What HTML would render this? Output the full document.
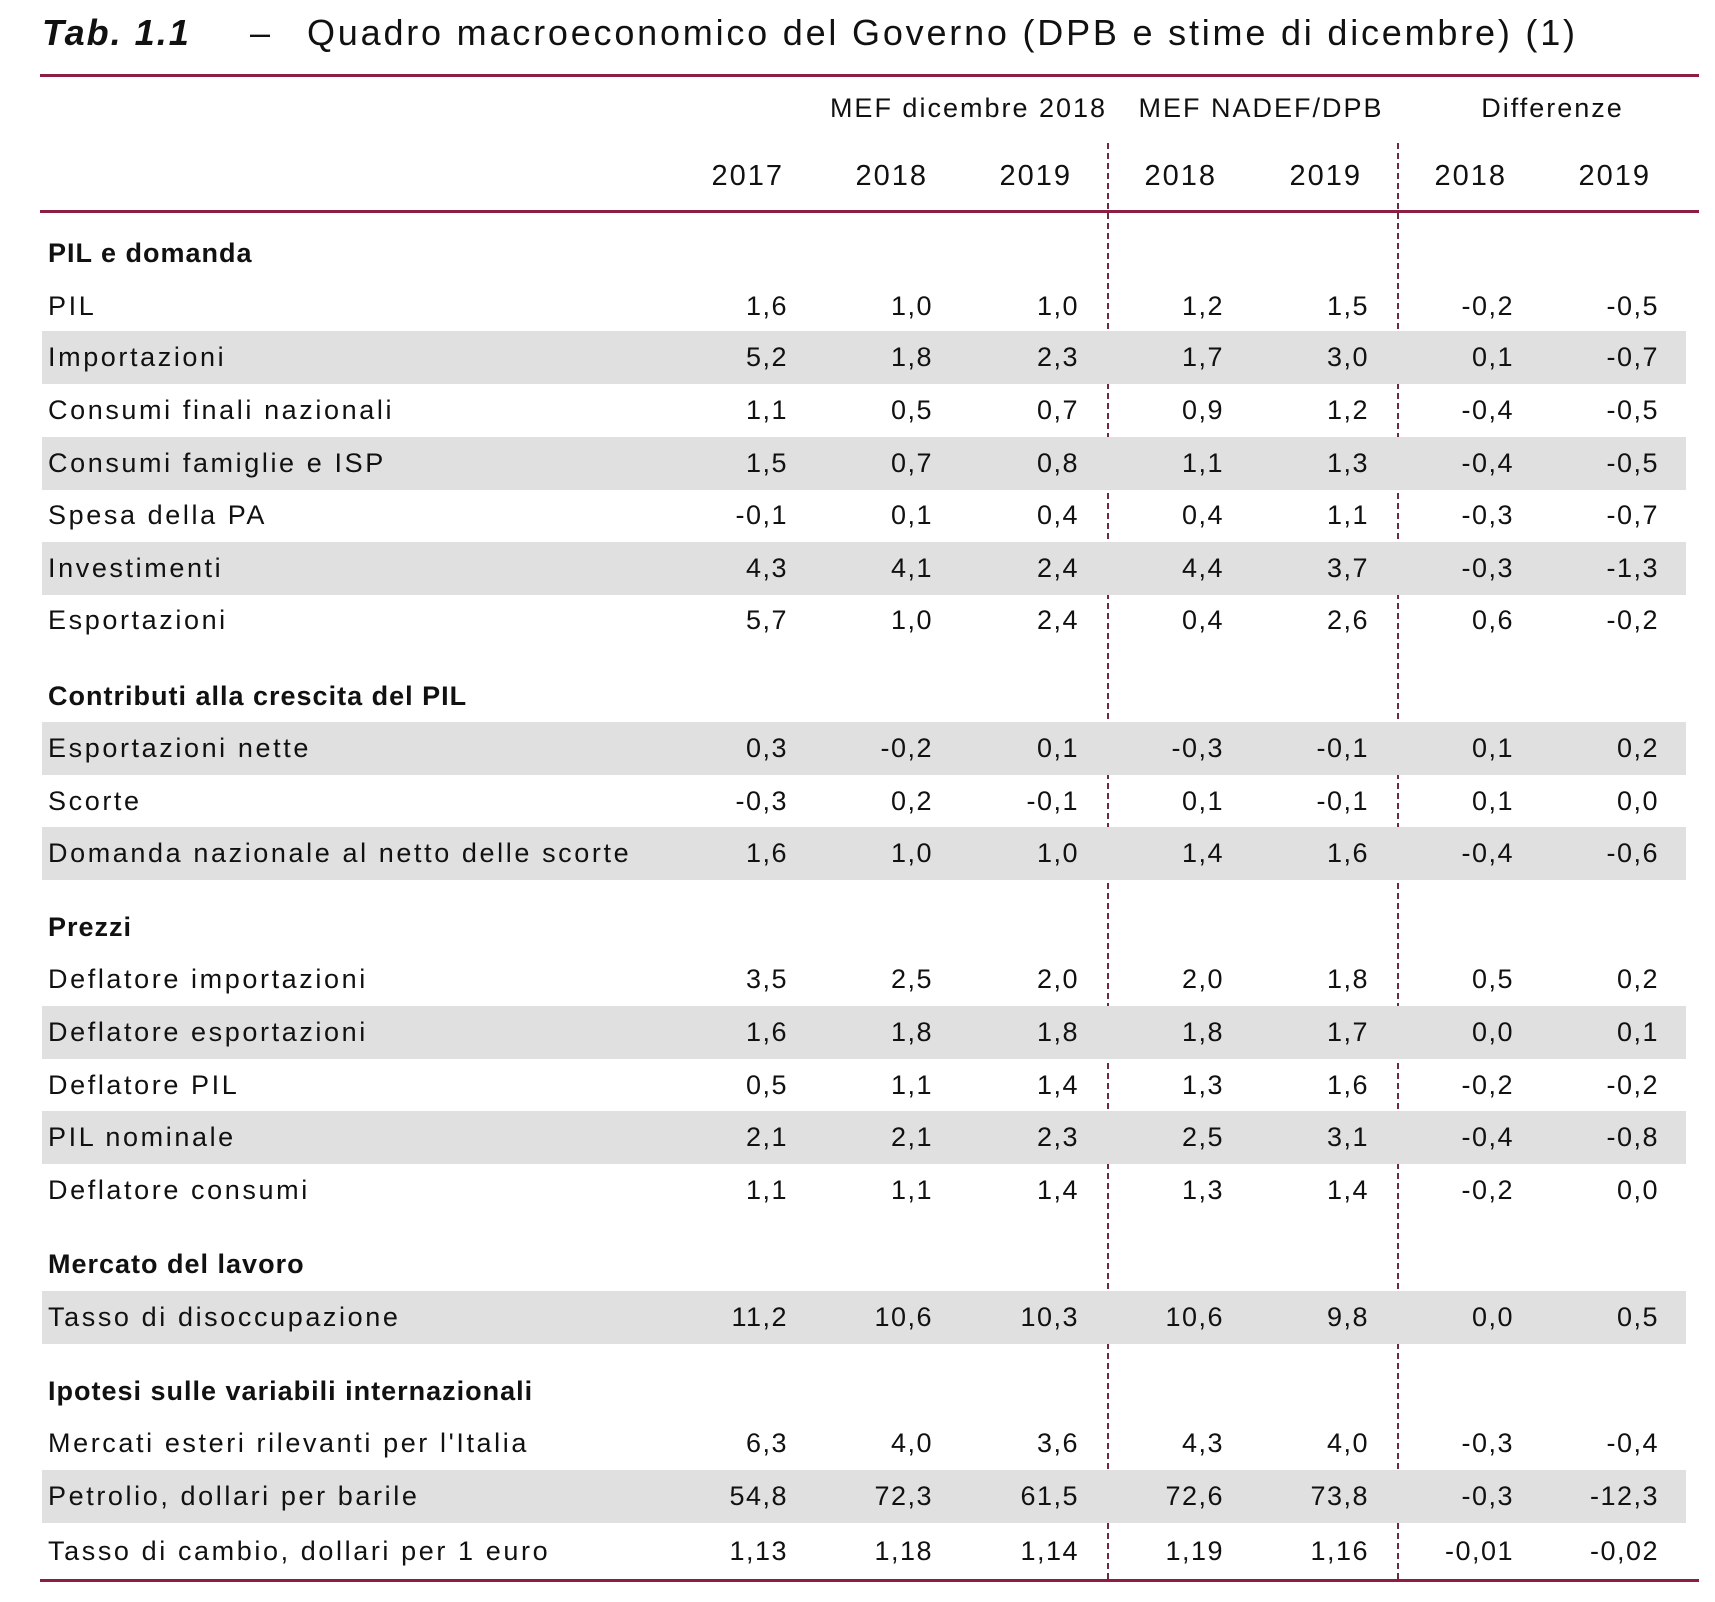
<!DOCTYPE html>
<html><head><meta charset="utf-8"><style>
body{margin:0;width:1715px;height:1602px;background:#fff;position:relative;overflow:hidden;font-family:"Liberation Sans",sans-serif;color:#111}
.a{position:absolute;white-space:nowrap}
.r{position:absolute;left:0;width:1715px;height:53px;line-height:53px;font-size:27px}
.s{background:#e0e0e0;left:42px;width:1644px}
.r .l{position:absolute;left:48px;letter-spacing:2.6px}
.s .l{left:6px}
.r span.v{position:absolute;width:110px;text-align:right;letter-spacing:1.5px}
.r .l.h{font-weight:bold;letter-spacing:1px}
.rule{position:absolute;left:40px;width:1659px;height:3px;background:#8b1e42}
.dash{position:absolute;top:143px;height:1436px;border-left:2px dashed #6b2a40;width:0}
.y{position:absolute;top:160px;font-size:29px;width:100px;text-align:right;letter-spacing:2px}
.g{position:absolute;top:93px;font-size:27px;text-align:center;letter-spacing:2px}
</style></head><body>
<div class="a" style="left:42px;top:12px;font-size:36px;font-weight:bold;font-style:italic;letter-spacing:2px">Tab. 1.1</div>
<div class="a" style="left:250px;top:12px;font-size:36px">–</div>
<div class="a" style="left:307px;top:12px;font-size:36px;letter-spacing:2.8px">Quadro macroeconomico del Governo (DPB e stime di dicembre) (1)</div>
<div class="rule" style="top:74px"></div>
<div class="rule" style="top:210px"></div>
<div class="rule" style="top:1579px"></div>
<div class="dash" style="left:1107px"></div>
<div class="dash" style="left:1397px"></div>
<div class="g" style="left:817px;width:303px">MEF dicembre 2018</div>
<div class="g" style="left:1135px;width:252px">MEF NADEF/DPB</div>
<div class="g" style="left:1465px;width:175px">Differenze</div>
<div class="y" style="left:684px">2017</div>
<div class="y" style="left:828px">2018</div>
<div class="y" style="left:972px">2019</div>
<div class="y" style="left:1117px">2018</div>
<div class="y" style="left:1262px">2019</div>
<div class="y" style="left:1407px">2018</div>
<div class="y" style="left:1551px">2019</div>

<div class="r" style="top:227px"><span class="l h">PIL e domanda</span></div>
<div class="r" style="top:280px"><span class="l">PIL</span><span class="v" style="left:678px">1,6</span><span class="v" style="left:823px">1,0</span><span class="v" style="left:969px">1,0</span><span class="v" style="left:1114px">1,2</span><span class="v" style="left:1259px">1,5</span><span class="v" style="left:1404px">-0,2</span><span class="v" style="left:1549px">-0,5</span></div>
<div class="r s" style="top:331px"><span class="l">Importazioni</span><span class="v" style="left:636px">5,2</span><span class="v" style="left:781px">1,8</span><span class="v" style="left:927px">2,3</span><span class="v" style="left:1072px">1,7</span><span class="v" style="left:1217px">3,0</span><span class="v" style="left:1362px">0,1</span><span class="v" style="left:1507px">-0,7</span></div>
<div class="r" style="top:384px"><span class="l">Consumi finali nazionali</span><span class="v" style="left:678px">1,1</span><span class="v" style="left:823px">0,5</span><span class="v" style="left:969px">0,7</span><span class="v" style="left:1114px">0,9</span><span class="v" style="left:1259px">1,2</span><span class="v" style="left:1404px">-0,4</span><span class="v" style="left:1549px">-0,5</span></div>
<div class="r s" style="top:437px"><span class="l">Consumi famiglie e ISP</span><span class="v" style="left:636px">1,5</span><span class="v" style="left:781px">0,7</span><span class="v" style="left:927px">0,8</span><span class="v" style="left:1072px">1,1</span><span class="v" style="left:1217px">1,3</span><span class="v" style="left:1362px">-0,4</span><span class="v" style="left:1507px">-0,5</span></div>
<div class="r" style="top:489px"><span class="l">Spesa della PA</span><span class="v" style="left:678px">-0,1</span><span class="v" style="left:823px">0,1</span><span class="v" style="left:969px">0,4</span><span class="v" style="left:1114px">0,4</span><span class="v" style="left:1259px">1,1</span><span class="v" style="left:1404px">-0,3</span><span class="v" style="left:1549px">-0,7</span></div>
<div class="r s" style="top:542px"><span class="l">Investimenti</span><span class="v" style="left:636px">4,3</span><span class="v" style="left:781px">4,1</span><span class="v" style="left:927px">2,4</span><span class="v" style="left:1072px">4,4</span><span class="v" style="left:1217px">3,7</span><span class="v" style="left:1362px">-0,3</span><span class="v" style="left:1507px">-1,3</span></div>
<div class="r" style="top:594px"><span class="l">Esportazioni</span><span class="v" style="left:678px">5,7</span><span class="v" style="left:823px">1,0</span><span class="v" style="left:969px">2,4</span><span class="v" style="left:1114px">0,4</span><span class="v" style="left:1259px">2,6</span><span class="v" style="left:1404px">0,6</span><span class="v" style="left:1549px">-0,2</span></div>

<div class="r" style="top:670px"><span class="l h">Contributi alla crescita del PIL</span></div>
<div class="r s" style="top:722px"><span class="l">Esportazioni nette</span><span class="v" style="left:636px">0,3</span><span class="v" style="left:781px">-0,2</span><span class="v" style="left:927px">0,1</span><span class="v" style="left:1072px">-0,3</span><span class="v" style="left:1217px">-0,1</span><span class="v" style="left:1362px">0,1</span><span class="v" style="left:1507px">0,2</span></div>
<div class="r" style="top:775px"><span class="l">Scorte</span><span class="v" style="left:678px">-0,3</span><span class="v" style="left:823px">0,2</span><span class="v" style="left:969px">-0,1</span><span class="v" style="left:1114px">0,1</span><span class="v" style="left:1259px">-0,1</span><span class="v" style="left:1404px">0,1</span><span class="v" style="left:1549px">0,0</span></div>
<div class="r s" style="top:827px"><span class="l">Domanda nazionale al netto delle scorte</span><span class="v" style="left:636px">1,6</span><span class="v" style="left:781px">1,0</span><span class="v" style="left:927px">1,0</span><span class="v" style="left:1072px">1,4</span><span class="v" style="left:1217px">1,6</span><span class="v" style="left:1362px">-0,4</span><span class="v" style="left:1507px">-0,6</span></div>

<div class="r" style="top:901px"><span class="l h">Prezzi</span></div>
<div class="r" style="top:953px"><span class="l">Deflatore importazioni</span><span class="v" style="left:678px">3,5</span><span class="v" style="left:823px">2,5</span><span class="v" style="left:969px">2,0</span><span class="v" style="left:1114px">2,0</span><span class="v" style="left:1259px">1,8</span><span class="v" style="left:1404px">0,5</span><span class="v" style="left:1549px">0,2</span></div>
<div class="r s" style="top:1006px"><span class="l">Deflatore esportazioni</span><span class="v" style="left:636px">1,6</span><span class="v" style="left:781px">1,8</span><span class="v" style="left:927px">1,8</span><span class="v" style="left:1072px">1,8</span><span class="v" style="left:1217px">1,7</span><span class="v" style="left:1362px">0,0</span><span class="v" style="left:1507px">0,1</span></div>
<div class="r" style="top:1059px"><span class="l">Deflatore PIL</span><span class="v" style="left:678px">0,5</span><span class="v" style="left:823px">1,1</span><span class="v" style="left:969px">1,4</span><span class="v" style="left:1114px">1,3</span><span class="v" style="left:1259px">1,6</span><span class="v" style="left:1404px">-0,2</span><span class="v" style="left:1549px">-0,2</span></div>
<div class="r s" style="top:1111px"><span class="l">PIL nominale</span><span class="v" style="left:636px">2,1</span><span class="v" style="left:781px">2,1</span><span class="v" style="left:927px">2,3</span><span class="v" style="left:1072px">2,5</span><span class="v" style="left:1217px">3,1</span><span class="v" style="left:1362px">-0,4</span><span class="v" style="left:1507px">-0,8</span></div>
<div class="r" style="top:1164px"><span class="l">Deflatore consumi</span><span class="v" style="left:678px">1,1</span><span class="v" style="left:823px">1,1</span><span class="v" style="left:969px">1,4</span><span class="v" style="left:1114px">1,3</span><span class="v" style="left:1259px">1,4</span><span class="v" style="left:1404px">-0,2</span><span class="v" style="left:1549px">0,0</span></div>

<div class="r" style="top:1238px"><span class="l h">Mercato del lavoro</span></div>
<div class="r s" style="top:1291px"><span class="l">Tasso di disoccupazione</span><span class="v" style="left:636px">11,2</span><span class="v" style="left:781px">10,6</span><span class="v" style="left:927px">10,3</span><span class="v" style="left:1072px">10,6</span><span class="v" style="left:1217px">9,8</span><span class="v" style="left:1362px">0,0</span><span class="v" style="left:1507px">0,5</span></div>

<div class="r" style="top:1365px"><span class="l h">Ipotesi sulle variabili internazionali</span></div>
<div class="r" style="top:1417px"><span class="l">Mercati esteri rilevanti per l'Italia</span><span class="v" style="left:678px">6,3</span><span class="v" style="left:823px">4,0</span><span class="v" style="left:969px">3,6</span><span class="v" style="left:1114px">4,3</span><span class="v" style="left:1259px">4,0</span><span class="v" style="left:1404px">-0,3</span><span class="v" style="left:1549px">-0,4</span></div>
<div class="r s" style="top:1470px"><span class="l">Petrolio, dollari per barile</span><span class="v" style="left:636px">54,8</span><span class="v" style="left:781px">72,3</span><span class="v" style="left:927px">61,5</span><span class="v" style="left:1072px">72,6</span><span class="v" style="left:1217px">73,8</span><span class="v" style="left:1362px">-0,3</span><span class="v" style="left:1507px">-12,3</span></div>
<div class="r" style="top:1525px"><span class="l">Tasso di cambio, dollari per 1 euro</span><span class="v" style="left:678px">1,13</span><span class="v" style="left:823px">1,18</span><span class="v" style="left:969px">1,14</span><span class="v" style="left:1114px">1,19</span><span class="v" style="left:1259px">1,16</span><span class="v" style="left:1404px">-0,01</span><span class="v" style="left:1549px">-0,02</span></div>
</body></html>
